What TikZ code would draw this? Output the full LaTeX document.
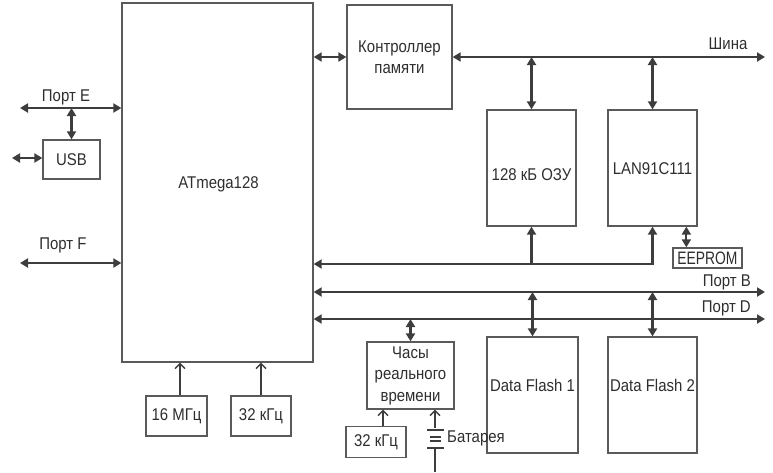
\documentclass[tikz,border=0pt]{standalone}
\usepackage{fontspec}
\setmainfont{Liberation Sans}[FakeStretch=0.88]
\newfontfamily\eepfont{Liberation Sans}[FakeStretch=0.77]
\usetikzlibrary{arrows.meta}
\definecolor{ln}{HTML}{3D3D3D}
\definecolor{bx}{HTML}{5A5A5A}
\definecolor{tx}{HTML}{2E2E2E}
\begin{document}
\begin{tikzpicture}[x=1pt,y=-1pt,
  every node/.style={font=\fontsize{17}{21.5}\selectfont,text=tx,inner sep=0pt},
  box/.style={draw=bx,line width=1.3pt,align=center},
  link/.style={draw=ln,line width=2.2pt,>={Triangle[length=8pt,width=9pt]}},
  inarr/.style={draw=ln,line width=1.4pt,-{Straight Barb[length=5pt,width=10pt]}},
  plate/.style={draw=ln,line width=1.4pt}]
\useasboundingbox (0,0) rectangle (773,472);
% boxes
\node[box,minimum width=191pt,minimum height=359pt] (atm) at (217.5,182.5) {};
\node (atmt) at (218.5,184) {ATmega128};
\node[box,minimum width=105pt,minimum height=104pt] (ctl) at (399.5,57) {Контроллер\\памяти};
\node[box,minimum width=89pt,minimum height=116pt] (ram) at (531.5,168) {};
\node (ramt) at (531.5,175) {128 кБ ОЗУ};
\node[box,minimum width=89pt,minimum height=116pt] (lan) at (652.5,168) {};
\node (lant) at (652.5,169) {LAN91C111};
\node[box,minimum width=69pt,minimum height=20pt,font=\eepfont\fontsize{18}{20}\selectfont] (eep) at (707.5,258) {EEPROM};
\node[box,minimum width=91pt,minimum height=116pt] (df1) at (532.5,395) {};
\node (df1t) at (532.5,385) {Data Flash 1};
\node[box,minimum width=89pt,minimum height=116pt] (df2) at (652.5,395) {};
\node (df2t) at (652.5,385) {Data Flash 2};
\node[box,minimum width=87pt,minimum height=67pt] (clk) at (410.5,375.5) {Часы\\реального\\времени};
\node[box,minimum width=60pt,minimum height=31pt] (k32b) at (376,442) {32 кГц};
\node[box,minimum width=61pt,minimum height=40pt] (m16) at (176.5,416) {16 МГц};
\node[box,minimum width=60pt,minimum height=40pt] (k32a) at (261,416) {32 кГц};
\node[box,minimum width=57pt,minimum height=39pt] (usb) at (71.5,159.5) {USB};
% coordinates
\coordinate (busend) at (765,57);
\coordinate (dbus) at (652.5,264);
\coordinate (pb) at (765,292);
\coordinate (pd) at (765,319);
\coordinate (pe) at (20,108);
\coordinate (pf) at (20,263);
\coordinate (usbl) at (12,158);
\coordinate (bat) at (435,428);
% connectors
\draw[link,<->] (atm.east |- ctl.west) -- (ctl.west);
\draw[link,<->] (ctl.east) -- (busend);
\draw[link,<->] (ram.north |- busend) -- (ram.north);
\draw[link,<->] (lan.north |- busend) -- (lan.north);
\draw[link,<->] (atm.east |- dbus) -- (dbus) -- (lan.south);
\draw[link,->] (ram.south |- dbus) -- (ram.south);
\draw[link,<->] ([xshift=14pt]eep.north west |- lan.south) -- ([xshift=14pt]eep.north west);
\draw[link,<->] (atm.east |- pb) -- (pb);
\draw[link,<->] (atm.east |- pd) -- (pd);
\draw[link,<->] (df1.north |- pb) -- (df1.north);
\draw[link,<->] (df2.north |- pb) -- (df2.north);
\draw[link,<->] (clk.north |- pd) -- (clk.north);
\draw[link,<->] (pe) -- (atm.west |- pe);
\draw[link,<->] (usb.north |- pe) -- (usb.north);
\draw[link,<->] (usbl) -- (usb.west |- usbl);
\draw[link,<->] (pf) -- (atm.west |- pf);
% clock inputs
\draw[inarr] ([xshift=3.5pt]m16.north) -- ([xshift=3.5pt]m16.north |- atm.south);
\draw[inarr] (k32a.north) -- (k32a.north |- atm.south);
\draw[inarr] ([xshift=7pt]k32b.north) -- ([xshift=7pt]k32b.north |- clk.south);
\draw[inarr] (bat) -- (bat |- clk.south);
% battery
\draw[plate] (427,430) -- (444,430);
\draw[plate] (430,437) -- (441,437);
\draw[plate] (430,441) -- (441,441);
\draw[plate] (427,448) -- (444,448);
\draw[plate] (435,448) -- (435,472);
% labels
\node (lpe) at (66,97) {Порт E};
\node (lpf) at (63,245) {Порт F};
\node (lbus) at (728,44) {Шина};
\node[anchor=east] (lpb) at (751,282) {Порт B};
\node[anchor=east] (lpd) at (751,308) {Порт D};
\node[anchor=west] (lbat) at (447,438) {Батарея};
\end{tikzpicture}
\end{document}
